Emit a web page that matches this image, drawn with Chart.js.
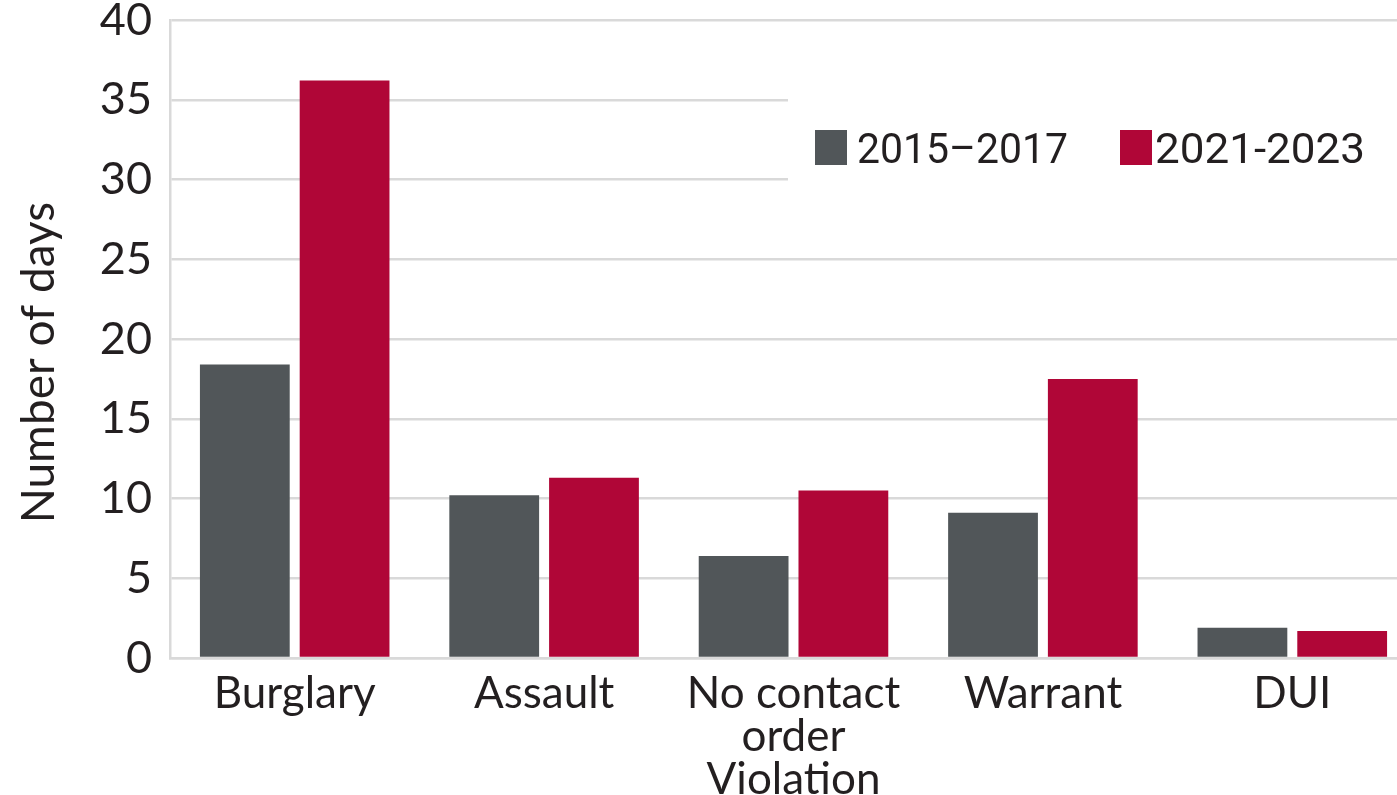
<!DOCTYPE html>
<html lang="en">
<head>
  <meta charset="UTF-8">
  <title>Number of days</title>
  <style>
    html, body { margin: 0; padding: 0; background: #fff; overflow: hidden; }
    .wrap { position: absolute; left: 0; top: 0; width: 1417px; height: 795px; }
  </style>
</head>
<body>
  <div class="wrap">
    <canvas class="barChart"></canvas>
  </div>

  <script src="https://cdn.jsdelivr.net/npm/chart.js"></script>
  <script>

const categories = ['Burglary', 'Assault', ['No contact', 'order', 'Violation'], 'Warrant', 'DUI'];
const seriesNames = ['2015\u20132017', '2021-2023'];
const values2015 = [18.4, 10.2, 6.4, 9.1, 1.9];
const values2021 = [36.2, 11.3, 10.5, 17.5, 1.7];
const yTicks = [0, 5, 10, 15, 20, 25, 30, 35, 40];

const GRAY = '#515659';
const RED = '#b00637';
const GRID = '#d9d9d9';
const TEXT = '#231f20';

// legend sits in a white box over the gridlines, top right
const legendBox = {
  id: 'legendBox',
  afterDatasetsDraw(chart) {
    const ctx = chart.ctx;
    ctx.save();
    ctx.fillStyle = '#fff';
    ctx.fillRect(788, 97, 700, 87);
    ctx.font = '42px Roboto';
    ctx.textBaseline = 'alphabetic';
    const spots = [{ box: 815, text: 857, w: 211 }, { box: 1120, text: 1155, w: 210 }];
    chart.data.datasets.forEach((ds, i) => {
      const s = spots[i];
      ctx.fillStyle = ds.backgroundColor;
      ctx.fillRect(s.box, 130, 32, 35);
      ctx.fillStyle = TEXT;
      // stretch the text a bit, the original face is wider than Roboto
      const k = s.w / ctx.measureText(ds.label).width;
      ctx.save();
      ctx.translate(s.text, 163);
      ctx.scale(k, 1);
      ctx.fillText(ds.label, 0, 0);
      ctx.restore();
    });
    ctx.restore();
  }
};

let canvasBar = document.querySelector('.barChart');
let contextBar = canvasBar.getContext('2d');

new Chart(contextBar, {
  type: 'bar',
  data: {
    labels: categories,
    datasets: [
      { label: seriesNames[0], data: values2015, backgroundColor: GRAY },
      { label: seriesNames[1], data: values2021, backgroundColor: RED }
    ]
  },
  options: {
    responsive: true,
    maintainAspectRatio: false,
    animation: false,
    layout: { padding: { top: 20, left: 0, right: 0, bottom: 0 } },
    datasets: {
      bar: { categoryPercentage: 0.8, barPercentage: 0.9 }
    },
    plugins: {
      legend: { display: false },
      tooltip: { enabled: false }
    },
    scales: {
      x: {
        grid: { display: false, drawTicks: false },
        border: { display: true, color: GRID, width: 2.5 },
        ticks: {
          color: TEXT,
          padding: 14,
          maxRotation: 0,
          autoSkip: false,
          font: { family: 'Lato', size: 44, lineHeight: 0.98 }
        },
        afterFit(scale) {
          scale.height = 137;
          scale.paddingLeft = 0;
          scale.paddingRight = 0;
        }
      },
      y: {
        min: 0,
        max: 40,
        afterBuildTicks(scale) {
          scale.ticks = yTicks.map(v => ({ value: v }));
        },
        grid: { color: GRID, lineWidth: 2.5, drawTicks: false },
        border: { display: true, color: GRID, width: 2.5 },
        ticks: {
          color: TEXT,
          padding: 18,
          font: { family: 'Lato', size: 45 }
        },
        title: {
          display: true,
          // trailing spaces nudge the title a little below the axis middle, as in the original
          text: 'Number of days    ',
          color: TEXT,
          padding: { top: 12, bottom: 0 },
          font: { family: 'Lato', size: 46 }
        },
        afterFit(scale) {
          scale.width = 170;
          scale.paddingTop = 0;
          scale.paddingBottom = 0;
        }
      }
    }
  },
  plugins: [legendBox]
});

  </script>
</body>
</html>
